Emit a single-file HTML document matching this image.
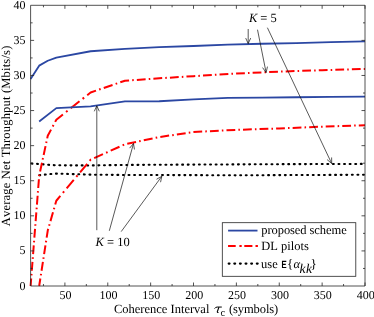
<!DOCTYPE html>
<html><head><meta charset="utf-8"><style>
html,body{margin:0;padding:0;background:#fff;}
svg{display:block;font-family:"Liberation Serif",serif;text-rendering:geometricPrecision;font-kerning:none;will-change:transform;}
</style></head><body>
<svg width="374" height="317" viewBox="0 0 374 317">
<rect width="374" height="317" fill="#fff"/>
<g fill="none" stroke-linejoin="round">
<path d="M30.60 163.47 L39.17 164.04 L47.75 164.74 L56.32 165.30 L90.62 165.44 L124.92 164.95 L159.22 164.74 L193.51 164.60 L279.26 164.18 L365.00 163.90" stroke="#000" stroke-width="2.1" stroke-linecap="round" stroke-dasharray="0.9 4.683" stroke-dashoffset="-0.9"/>
<path d="M39.17 175.26 L47.75 174.28 L56.32 173.58 L90.62 174.63 L124.92 174.98 L193.51 175.12 L236.38 175.33 L279.26 175.12 L365.00 174.77" stroke="#000" stroke-width="2.1" stroke-linecap="round" stroke-dasharray="0.9 4.683" stroke-dashoffset="-0.15"/>
<path d="M30.60 286.00 L31.19 278.48 M31.43 275.38 L31.55 273.83 M31.79 270.73 L32.47 261.94 M32.71 258.84 L32.83 257.29 M33.08 254.19 L33.76 245.40 M34.00 242.30 L34.12 240.75 M34.36 237.65 L35.05 228.86 M35.29 225.76 L35.41 224.21 M35.65 221.11 L36.33 212.32 M36.58 209.22 L36.70 207.67 M36.94 204.57 L37.62 195.78 M37.86 192.68 L37.98 191.13 M38.22 188.03 L38.91 179.24 M39.15 176.14 L39.17 175.83 L39.44 174.59 M40.10 171.49 L41.99 162.70 M42.65 159.60 L42.98 158.05 M43.65 154.95 L45.53 146.16 M46.20 143.06 L46.53 141.51 M47.19 138.41 L47.75 135.83 L51.05 129.62 M52.69 126.52 L53.52 124.97 M55.16 121.87 L56.32 119.69 L62.93 114.44 M66.03 111.98 L67.58 110.75 M70.68 108.29 L79.47 101.31 M82.57 98.85 L84.12 97.62 M87.22 95.16 L90.62 92.46 L96.01 90.62 M99.11 89.56 L100.66 89.03 M103.76 87.97 L112.55 84.96 M115.65 83.91 L117.20 83.38 M120.30 82.32 L124.92 80.74 L129.09 80.44 M132.19 80.22 L133.74 80.11 M136.84 79.88 L145.63 79.25 M148.73 79.03 L150.28 78.92 M153.38 78.70 L159.22 78.28 L162.17 78.10 M165.27 77.91 L166.82 77.82 M169.92 77.63 L178.71 77.09 M181.81 76.90 L183.36 76.80 M186.46 76.61 L193.51 76.18 L195.25 76.07 M198.35 75.88 L199.90 75.78 M203.00 75.59 L211.79 75.04 M214.89 74.85 L216.44 74.75 M219.54 74.56 L228.33 74.01 M231.43 73.82 L232.98 73.72 M236.08 73.53 L236.38 73.51 L244.87 73.14 M247.97 73.00 L249.52 72.93 M252.62 72.79 L261.41 72.40 M264.51 72.27 L266.06 72.20 M269.16 72.06 L277.95 71.67 M281.05 71.56 L282.60 71.51 M285.70 71.40 L294.49 71.12 M297.59 71.02 L299.14 70.96 M302.24 70.86 L311.03 70.58 M314.13 70.47 L315.68 70.42 M318.78 70.32 L322.13 70.21 L327.57 70.04 M330.67 69.95 L332.22 69.90 M335.32 69.80 L344.11 69.53 M347.21 69.43 L348.76 69.38 M351.86 69.29 L360.65 69.01 M363.75 68.92 L365.00 68.88" stroke="#ff0000" stroke-width="2"/>
<path d="M39.17 286.00 L40.34 278.48 M40.82 275.38 L41.06 273.83 M41.54 270.73 L42.90 261.94 M43.38 258.84 L43.61 257.29 M44.09 254.19 L45.45 245.40 M45.93 242.30 L46.17 240.75 M46.65 237.65 L47.75 230.56 L48.24 228.86 M49.13 225.76 L49.57 224.21 M50.47 221.11 L52.99 212.32 M53.88 209.22 L54.33 207.67 M55.22 204.57 L56.32 200.74 L60.35 195.92 M62.86 192.91 L64.12 191.40 M66.64 188.39 L73.77 179.85 M76.29 176.84 L77.55 175.33 M80.06 172.32 L87.20 163.78 M89.72 160.77 L90.62 159.69 L91.06 159.49 M94.16 158.10 L102.95 154.16 M106.05 152.77 L107.60 152.08 M110.70 150.69 L119.49 146.75 M122.59 145.36 L124.14 144.67 M127.24 143.83 L136.03 141.98 M139.13 141.32 L140.68 141.00 M143.78 140.34 L152.57 138.49 M155.67 137.84 L157.22 137.51 M160.32 136.92 L169.11 135.61 M172.21 135.15 L173.76 134.92 M176.86 134.45 L185.65 133.14 M188.75 132.68 L190.30 132.45 M193.40 131.98 L193.51 131.97 L202.19 131.54 M205.29 131.39 L206.84 131.31 M209.94 131.16 L218.73 130.73 M221.83 130.58 L223.38 130.50 M226.48 130.35 L235.27 129.92 M238.37 129.80 L239.92 129.75 M243.02 129.64 L251.81 129.36 M254.91 129.25 L256.46 129.20 M259.56 129.10 L268.35 128.81 M271.45 128.71 L273.00 128.66 M276.10 128.56 L279.26 128.46 L284.89 128.23 M287.99 128.10 L289.54 128.04 M292.64 127.91 L301.43 127.55 M304.53 127.42 L306.08 127.36 M309.18 127.23 L317.97 126.87 M321.07 126.75 L322.13 126.70 L322.62 126.69 M325.72 126.57 L334.51 126.26 M337.61 126.15 L339.16 126.09 M342.26 125.98 L351.05 125.66 M354.15 125.55 L355.70 125.49 M358.80 125.38 L365.00 125.16" stroke="#ff0000" stroke-width="2"/>
<path d="M30.60 78.98 L39.17 65.65 L47.75 60.74 L56.32 57.58 L90.62 51.26 L124.92 48.81 L159.22 47.05 L193.51 46.00 L227.81 44.60 L262.11 43.76 L296.41 43.19 L330.70 42.14 L365.00 41.30" stroke="#2b47a3" stroke-width="1.8"/>
<path d="M39.17 121.44 L56.32 108.11 L90.62 106.35 L124.92 101.37 L159.22 101.23 L193.51 99.33 L227.81 97.93 L262.11 97.58 L296.41 97.23 L330.70 96.88 L365.00 96.53" stroke="#2b47a3" stroke-width="1.8"/>
<path d="M248.20 29.00 L248.20 43.60 M245.70 38.10 L248.20 43.60 L250.70 38.10 M257.50 29.70 L266.10 72.50 M262.57 67.60 L266.10 72.50 L267.47 66.62 M267.40 27.70 L331.70 163.50 M327.09 159.60 L331.70 163.50 L331.61 157.46 M96.80 230.20 L96.80 105.80 M99.30 111.30 L96.80 105.80 L94.30 111.30 M109.30 230.80 L133.50 143.50 M134.44 149.47 L133.50 143.50 L129.62 148.13 M121.20 231.60 L161.80 176.30 M160.56 182.21 L161.80 176.30 L156.53 179.25" stroke="#111" stroke-width="0.7"/>
<rect x="30.6" y="5.3" width="334.4" height="280.7" stroke="#262626" stroke-width="0.8"/>
<path d="M43.46 286.00 v-2.00 M43.46 5.30 v2.00 M64.90 286.00 v-3.50 M64.90 5.30 v3.50 M86.33 286.00 v-2.00 M86.33 5.30 v2.00 M107.77 286.00 v-3.50 M107.77 5.30 v3.50 M129.21 286.00 v-2.00 M129.21 5.30 v2.00 M150.64 286.00 v-3.50 M150.64 5.30 v3.50 M172.08 286.00 v-2.00 M172.08 5.30 v2.00 M193.51 286.00 v-3.50 M193.51 5.30 v3.50 M214.95 286.00 v-2.00 M214.95 5.30 v2.00 M236.38 286.00 v-3.50 M236.38 5.30 v3.50 M257.82 286.00 v-2.00 M257.82 5.30 v2.00 M279.26 286.00 v-3.50 M279.26 5.30 v3.50 M300.69 286.00 v-2.00 M300.69 5.30 v2.00 M322.13 286.00 v-3.50 M322.13 5.30 v3.50 M343.56 286.00 v-2.00 M343.56 5.30 v2.00 M365.00 286.00 v-3.50 M365.00 5.30 v3.50 M30.60 268.46 h2.00 M365.00 268.46 h-2.00 M30.60 250.91 h3.50 M365.00 250.91 h-3.50 M30.60 233.37 h2.00 M365.00 233.37 h-2.00 M30.60 215.82 h3.50 M365.00 215.82 h-3.50 M30.60 198.28 h2.00 M365.00 198.28 h-2.00 M30.60 180.74 h3.50 M365.00 180.74 h-3.50 M30.60 163.19 h2.00 M365.00 163.19 h-2.00 M30.60 145.65 h3.50 M365.00 145.65 h-3.50 M30.60 128.11 h2.00 M365.00 128.11 h-2.00 M30.60 110.56 h3.50 M365.00 110.56 h-3.50 M30.60 93.02 h2.00 M365.00 93.02 h-2.00 M30.60 75.47 h3.50 M365.00 75.47 h-3.50 M30.60 57.93 h2.00 M365.00 57.93 h-2.00 M30.60 40.39 h3.50 M365.00 40.39 h-3.50 M30.60 22.84 h2.00 M365.00 22.84 h-2.00" stroke="#262626" stroke-width="0.8"/>
</g>
<g font-size="12px" fill="#000"><text x="65.60" y="298.7" text-anchor="middle">50</text><text x="108.47" y="298.7" text-anchor="middle">100</text><text x="151.34" y="298.7" text-anchor="middle">150</text><text x="194.21" y="298.7" text-anchor="middle">200</text><text x="237.08" y="298.7" text-anchor="middle">250</text><text x="279.96" y="298.7" text-anchor="middle">300</text><text x="322.83" y="298.7" text-anchor="middle">350</text><text x="365.70" y="298.7" text-anchor="middle">400</text><text x="25.6" y="289.50" text-anchor="end">0</text><text x="25.6" y="254.41" text-anchor="end">5</text><text x="25.6" y="219.32" text-anchor="end">10</text><text x="25.6" y="184.24" text-anchor="end">15</text><text x="25.6" y="149.15" text-anchor="end">20</text><text x="25.6" y="114.06" text-anchor="end">25</text><text x="25.6" y="78.97" text-anchor="end">30</text><text x="25.6" y="43.89" text-anchor="end">35</text><text x="25.6" y="8.80" text-anchor="end">40</text></g>
<g font-size="12.5px" fill="#000">
<text x="248.9" y="22.2" textLength="27.8"><tspan font-style="italic">K</tspan> = 5</text>
<text x="95.6" y="246.2" textLength="34.1"><tspan font-style="italic">K</tspan> = 10</text>
<text transform="translate(9.8 226.2) rotate(-90)" textLength="180.5">Average Net Throughput (Mbits/s)</text>
<text x="113.9" y="313.0" textLength="95.5">Coherence Interval</text>
<path d="M214.6 308.6 Q215.5 307.05 217.2 307.05 L221.8 307.05" fill="none" stroke="#000" stroke-width="1"/>
<path d="M218.9 307.2 L217.3 311.7 Q217.1 312.7 218.5 312.5" fill="none" stroke="#000" stroke-width="1.05"/>
<text x="220.4" y="315.6" font-size="10.5px">c</text>
<text x="229.0" y="313.0" textLength="49.2">(symbols)</text>
</g>
<g>
<rect x="222.3" y="222.7" width="133.5" height="53.6" fill="#fff" stroke="#262626" stroke-width="0.8"/>
<path d="M228.1 230.6 H257.5" stroke="#2b47a3" stroke-width="1.8"/>
<path d="M228.05 246.1 H235.7 M239.4 246.1 H241.7 M244.3 246.1 H252.4 M255.5 246.1 H257.9" stroke="#ff0000" stroke-width="2"/>
<path d="M228.65 263.6 H258.5" stroke="#000" stroke-width="2.1" stroke-linecap="round" stroke-dasharray="0.9 4.73"/>
<g font-size="12.5px" fill="#000">
<text x="261.3" y="233.8" textLength="85.4">proposed scheme</text>
<text x="261.3" y="250.4">DL pilots</text>
<text x="261.1" y="267.7">use</text>
<path d="M286.3 261.4 H282.5 V267.5 H286.3 M282.5 264.4 H285.8" fill="none" stroke="#000" stroke-width="1.1"/>
<text x="286.9" y="268.3" font-size="13px">{</text>
<text x="293.6" y="267.7" font-style="italic" font-size="12.5px">α</text>
<text x="299.4" y="273.2" font-style="italic" font-size="13.5px" textLength="12.7">kk</text>
<text x="310.5" y="268.3" font-size="13px">}</text>
</g>
</g>
</svg>
</body></html>
